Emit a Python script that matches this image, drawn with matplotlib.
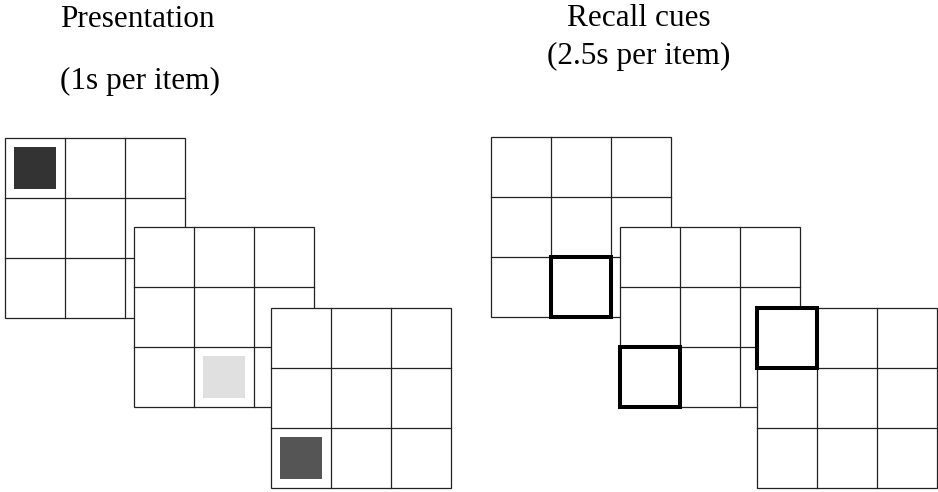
import matplotlib
matplotlib.use('Agg')
import matplotlib.pyplot as plt
from matplotlib.patches import Rectangle

# === Layout data (pixel coordinates, y down) ===
cell = 60
pres_origins = [(4.5, 137.5), (133.5, 227), (270.5, 308)]
pres_filled = [(0, 0), (1, 2), (0, 2)]          # (col, row) of the shown item
pres_colors = ['#333333', '#e0e0e0', '#555555']

recall_origins = [(491, 137), (620, 227), (756.5, 308)]
recall_cued = [(1, 2), (0, 2), (0, 0)]          # (col, row) of the cue box

titles = ['Presentation', '(1s per item)', 'Recall cues', '(2.5s per item)']
title_pos = [(137, 27), (140, 89), (639, 26), (639, 64)]

W, H = 938, 492
fig = plt.figure(figsize=(W / 100, H / 100), dpi=100)
ax = fig.add_axes([0, 0, 1, 1])
ax.set_xlim(0, W)
ax.set_ylim(H, 0)
ax.axis('off')

line_col = '#222222'
thin = 0.9


def draw_grid(x0, y0, z):
    # white background hides the grid underneath
    ax.add_patch(Rectangle((x0, y0), 3 * cell, 3 * cell, facecolor='white',
                           edgecolor=line_col, linewidth=thin, zorder=z))
    for k in (1, 2):
        ax.plot([x0 + k * cell, x0 + k * cell], [y0, y0 + 3 * cell],
                color=line_col, linewidth=thin, zorder=z + 0.1)
        ax.plot([x0, x0 + 3 * cell], [y0 + k * cell, y0 + k * cell],
                color=line_col, linewidth=thin, zorder=z + 0.1)


z = 1
for (x0, y0), (c, r), col in zip(pres_origins, pres_filled, pres_colors):
    draw_grid(x0, y0, z)
    inset = 9
    ax.add_patch(Rectangle((x0 + c * cell + inset, y0 + r * cell + inset),
                           cell - 2 * inset, cell - 2 * inset,
                           facecolor=col, edgecolor='none', zorder=z + 0.2))
    z += 1

for (x0, y0), (c, r) in zip(recall_origins, recall_cued):
    draw_grid(x0, y0, z)
    ax.add_patch(Rectangle((x0 + c * cell, y0 + r * cell), cell, cell,
                           facecolor='none', edgecolor='black', linewidth=2.9,
                           joinstyle='miter', zorder=z + 0.3))
    z += 1

for t, (x, y) in zip(titles, title_pos):
    ax.text(x, y, t, ha='center', va='baseline', fontsize=22.5,
            family='Liberation Serif', color='black')

fig.savefig('out.png', dpi=100, facecolor='white')
